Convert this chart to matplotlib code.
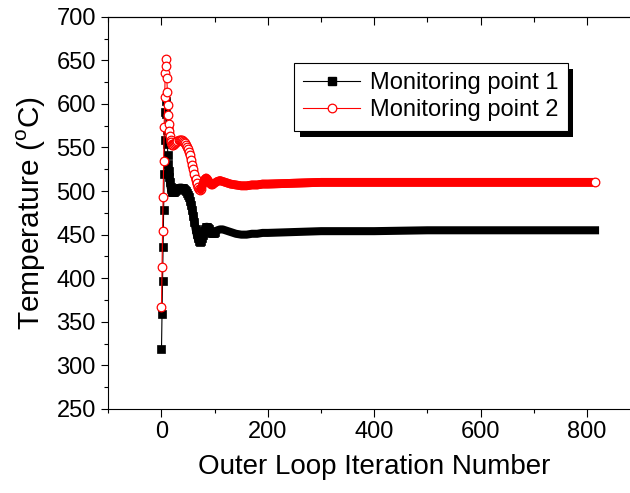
import numpy as np
import matplotlib.pyplot as plt
import matplotlib.patheffects as pe
from matplotlib.lines import Line2D
from matplotlib.ticker import MultipleLocator

plt.rcParams['font.family'] = ['Liberation Sans', 'DejaVu Sans']
plt.rcParams['mathtext.fontset'] = 'custom'
plt.rcParams['mathtext.rm'] = 'Liberation Sans'

# iterações amostradas (denso no transiente, esparso no patamar)
iteracao = [0, 1, 2, 3, 4, 5, 6, 7, 8, 9, 10, 11, 12, 13, 14, 15, 16, 17, 18, 19, 20,
            22, 24, 26, 28, 30, 32, 34, 36, 38, 40,
            42, 44, 46, 48, 50, 52, 54, 56, 58, 60,
            62, 64, 66, 68, 70, 72, 74, 76, 78, 80,
            82, 84, 86, 88, 90, 92, 94, 96, 98, 100,
            105, 110, 115, 120, 130, 140, 150, 160, 170, 180, 190, 200,
            250, 300, 400, 500, 600, 700, 815]

ponto1 = [319, 359, 397, 436, 478, 520, 558, 591, 603, 588, 570, 554, 541, 531, 523, 516, 510, 505, 502, 500, 499,
          499, 499, 500, 501, 502, 503, 504, 504, 504, 503,
          502, 501, 500, 498, 496, 493, 489, 484, 478, 471,
          464, 457, 451, 446, 443, 442, 443, 446, 450, 454,
          457, 459, 459, 458, 456, 454, 452, 452, 452, 453,
          455, 456, 456, 455, 453, 451, 450, 450, 451, 451, 452, 452,
          453, 454, 454, 455, 455, 455, 455]

ponto2 = [367, 413, 454, 493, 534, 573, 608, 636, 652, 644, 630, 614, 599, 587, 577, 569, 563, 559, 556, 554, 553,
          553, 554, 555, 556, 557, 558, 558, 558, 558, 557,
          556, 555, 553, 551, 548, 545, 541, 536, 530, 525,
          519, 514, 509, 505, 502, 501, 502, 505, 509, 512,
          514, 515, 514, 512, 510, 508, 507, 507, 508, 509,
          511, 512, 511, 510, 508, 507, 506, 506, 507, 507, 508, 508,
          509, 510, 510, 510, 510, 510, 510]

nomes = ['Monitoring point 1', 'Monitoring point 2']

x = np.array(iteracao)
t1 = np.array(ponto1)
t2 = np.array(ponto2)

denso1 = x <= 100     # quadrados individuais
denso2 = x <= 74      # círculos individuais
faixa = x >= 14       # marcadores sobrepostos formam uma faixa contínua
cauda = x >= 74

fig = plt.figure(figsize=(6.3, 4.93), dpi=100)
# o eixo passa da borda direita da figura (vai até 900)
ax = fig.add_axes([0.1719, 0.1704, 0.8444, 0.7957])
ax.patch.set_visible(False)

# ponto 1: quadrados pretos
ax.plot(x[faixa], t1[faixa], color='black', lw=5.8, solid_capstyle='projecting', zorder=2)
ax.plot(x, t1, color='black', lw=0.8, zorder=2)
ax.plot(x[denso1], t1[denso1], ls='none', marker='s', ms=5.4, mfc='black', mec='black', mew=0.5, zorder=2)

# ponto 2: círculos vermelhos vazados
ax.plot(x[faixa], t2[faixa], color='red', lw=6.3, solid_capstyle='butt', zorder=3)
ax.plot(x, t2, color='red', lw=0.8, zorder=3)
ax.plot(x[denso2], t2[denso2], ls='none', marker='o', ms=6.2, mfc='white', mec='red', mew=0.9, zorder=3)
ax.plot(x[cauda], t2[cauda], color='red', lw=6.3, solid_capstyle='round', zorder=3.5)
ax.plot(x[-1:], t2[-1:], ls='none', marker='o', ms=6.2, mfc='white', mec='red', mew=0.9, zorder=3.6)

ax.set_xlim(-100, 900)
ax.set_ylim(250, 700)
ax.xaxis.set_major_locator(MultipleLocator(200))
ax.xaxis.set_minor_locator(MultipleLocator(100))
ax.yaxis.set_major_locator(MultipleLocator(50))
ax.yaxis.set_minor_locator(MultipleLocator(25))
ax.tick_params(which='both', direction='out', width=0.8, labelsize=17, pad=3.5)
ax.tick_params(which='major', length=5.4)
ax.tick_params(which='minor', length=3.2)
for s in ax.spines.values():
    s.set_linewidth(0.8)
ax.spines['right'].set_visible(False)

# eixo de cima com marcas para dentro
topo = ax.secondary_xaxis('top')
topo.xaxis.set_major_locator(MultipleLocator(200))
topo.xaxis.set_minor_locator(MultipleLocator(100))
topo.tick_params(which='both', direction='in', width=0.8, labeltop=False)
topo.tick_params(which='major', length=5.8)
topo.tick_params(which='minor', length=3.6)
for lado, s in topo.spines.items():
    s.set_linewidth(0.8)
    s.set_visible(lado == 'top')

ax.set_xlabel('Outer Loop Iteration Number', fontsize=20, labelpad=8)
ax.set_ylabel('Temperature ($^{\\rm o}$C)', fontsize=21.5, labelpad=6)

alcas = [
    Line2D([], [], color='black', lw=0.8, marker='s', ms=5.4, mfc='black', mec='black'),
    Line2D([], [], color='red', lw=0.8, marker='o', ms=6.2, mfc='white', mec='red', mew=0.9),
]
leg = ax.legend(alcas, nomes, loc='upper left', bbox_to_anchor=(294 / 630, 1 - 63 / 493),
                bbox_transform=fig.transFigure, borderaxespad=0, fontsize=17, frameon=True,
                fancybox=False, framealpha=1, edgecolor='black', handlelength=2.4,
                handletextpad=0.4, labelspacing=0.2, borderpad=0.4, numpoints=1)
leg.get_frame().set_linewidth(0.8)
leg.get_frame().set_path_effects([
    pe.SimplePatchShadow(offset=(4.3, -4.3), shadow_rgbFace='black', alpha=1.0),
    pe.Normal(),
])
leg.set_zorder(10)

fig.savefig('out.png', dpi=100)
